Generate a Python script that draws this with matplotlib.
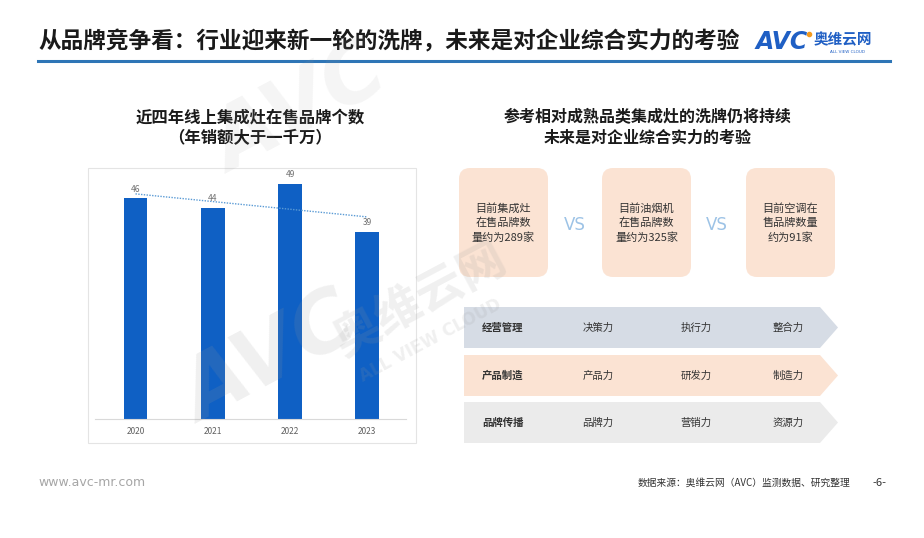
import numpy as np
import matplotlib
matplotlib.use("Agg")
import matplotlib.pyplot as plt
from matplotlib.patches import FancyBboxPatch, Polygon, Rectangle

plt.rcParams['font.family'] = ['Noto Sans CJK SC', 'DejaVu Sans']

# data
years = ['2020', '2021', '2022', '2023']
brand_counts = [46, 44, 49, 39]
compare_texts = ['目前集成灶\n在售品牌数\n量约为289家',
                 '目前油烟机\n在售品牌数\n量约为325家',
                 '目前空调在\n售品牌数量\n约为91家']
row_labels = ['经营管理', '产品制造', '品牌传播']
row_items = [['决策力', '执行力', '整合力'],
             ['产品力', '研发力', '制造力'],
             ['品牌力', '营销力', '资源力']]
row_colors = ['#D6DCE5', '#FBE3D3', '#EBEBEB']

W, H = 924, 538
fig = plt.figure(figsize=(W / 100, H / 100), dpi=100)
bg = fig.add_axes([0, 0, 1, 1])
bg.set_xlim(0, W)
bg.set_ylim(H, 0)
bg.axis('off')

# header
bg.text(38, 42, '从品牌竞争看：行业迎来新一轮的洗牌，未来是对企业综合实力的考验',
        fontsize=16.3, weight='bold', color='#1a1a1a', va='center', ha='left')
bg.plot([38, 890], [61, 61], color='#2E75B6', lw=2.2)
bg.text(756, 42, 'AVC', fontsize=17, weight='bold', style='italic', color='#1F5FC4',
        va='center', ha='left', family='DejaVu Sans')
bg.plot([809], [34], 'o', color='#F39A1E', ms=3)
bg.text(814, 39, '奥维云网', fontsize=10.5, weight='bold', color='#1F5FC4', va='center', ha='left')
bg.text(848, 52, 'ALL VIEW CLOUD', fontsize=3, color='#1F5FC4', va='center', ha='center',
        family='DejaVu Sans')

# left chart
bg.text(250, 117, '近四年线上集成灶在售品牌个数', fontsize=11.8, weight='bold',
        color='#1a1a1a', ha='center', va='center')
bg.text(250, 138, '（年销额大于一千万）', fontsize=11.8, weight='bold',
        color='#1a1a1a', ha='center', va='center')
bg.add_patch(Rectangle((88, 168), 328, 275, fill=False, ec='#E4E4E4', lw=0.8))

px_l, px_r, px_top, px_base = 95, 406, 168, 419
ax = fig.add_axes([px_l / W, 1 - px_base / H, (px_r - px_l) / W, (px_base - px_top) / H])
ax.patch.set_alpha(0)
x = np.arange(len(years))
ax.bar(x, brand_counts, width=0.31, color='#0F60C4', zorder=2)
for xi, v in zip(x, brand_counts):
    ax.text(xi, v + 0.9, str(v), ha='center', va='bottom', fontsize=6, color='#707070')
k, b = np.polyfit(x, brand_counts, 1)
ax.plot(x, k * x + b, ls=(0, (1, 1)), color='#5B9BD5', lw=1)
ax.set_xlim(-0.524, 3.5)
ax.set_ylim(0, (px_base - px_top) / 4.8)
ax.set_xticks(x, years)
ax.set_yticks([])
ax.tick_params(axis='x', length=0, labelsize=6, labelcolor='#606060', pad=6)
for s in ['top', 'left', 'right']:
    ax.spines[s].set_visible(False)
ax.spines['bottom'].set_color('#D9D9D9')
ax.spines['bottom'].set_linewidth(0.8)

# right panel
bg.text(648, 117, '参考相对成熟品类集成灶的洗牌仍将持续', fontsize=11.5, weight='bold',
        color='#1a1a1a', ha='center', va='center')
bg.text(648, 138, '未来是对企业综合实力的考验', fontsize=11.5, weight='bold',
        color='#1a1a1a', ha='center', va='center')

box_x = [459, 602, 746]
for bx, txt in zip(box_x, compare_texts):
    bg.add_patch(FancyBboxPatch((bx, 168), 89, 109, boxstyle='round,pad=0,rounding_size=11',
                                fc='#FBE3D3', ec='none'))
    bg.text(bx + 44.5, 223, txt, fontsize=8, color='#333333', ha='center', va='center',
            linespacing=1.45)
for vx in [575, 717]:
    bg.text(vx, 225, 'VS', fontsize=12, color='#9DC3E6', ha='center', va='center',
            family='DejaVu Sans')

row_top = [307, 355, 402]
for rt, lab, items, col in zip(row_top, row_labels, row_items, row_colors):
    h = 41
    bg.add_patch(Polygon([(464, rt), (820, rt), (838, rt + h / 2), (820, rt + h), (464, rt + h)],
                         closed=True, fc=col, ec='none'))
    cy = rt + h / 2
    bg.text(503, cy, lab, fontsize=7.5, weight='bold', color='#333333', ha='center', va='center')
    for ix, it in zip([598, 696, 788], items):
        bg.text(ix, cy, it, fontsize=7.5, color='#333333', ha='center', va='center')

# footer
bg.text(38, 483, 'www.avc-mr.com', fontsize=9, color='#A6A6A6', ha='left', va='center',
        family='DejaVu Sans')
bg.text(850, 483, '数据来源：奥维云网（AVC）监测数据、研究整理', fontsize=7, color='#333333',
        ha='right', va='center')
bg.text(879, 483, '-6-', fontsize=8, color='#333333', ha='center', va='center')

# watermark
fig.text(270 / W, 1 - 360 / H, 'AVC', fontsize=60, weight='bold', style='italic',
         color='#9A9A9A', alpha=0.15, rotation=28, ha='center', va='center', family='DejaVu Sans')
fig.text(420 / W, 1 - 300 / H, '奥维云网', fontsize=34, weight='bold',
         color='#9A9A9A', alpha=0.15, rotation=28, ha='center', va='center')
fig.text(430 / W, 1 - 340 / H, 'ALL VIEW CLOUD', fontsize=12, weight='bold',
         color='#9A9A9A', alpha=0.15, rotation=28, ha='center', va='center', family='DejaVu Sans')
fig.text(300 / W, 1 - 110 / H, 'AVC', fontsize=60, weight='bold', style='italic',
         color='#9A9A9A', alpha=0.1, rotation=28, ha='center', va='center', family='DejaVu Sans')

fig.savefig('out.png', dpi=100)
